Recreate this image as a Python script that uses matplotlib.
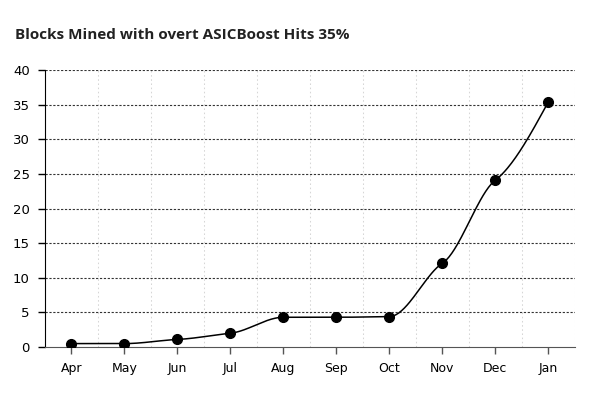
import numpy as np
import matplotlib.pyplot as plt

months = ['Apr', 'May', 'Jun', 'Jul', 'Aug', 'Sep', 'Oct', 'Nov', 'Dec', 'Jan']
share = [0.5, 0.5, 1.1, 2.0, 4.3, 4.3, 4.4, 12.1, 24.1, 35.4]
yticks = [0, 5, 10, 15, 20, 25, 30, 35, 40]


def smooth_curve(x, y, n=40):
    # monotone-style cubic hermite, tangents kept soft so the curve
    # bends between points like the original
    x = np.asarray(x, float)
    y = np.asarray(y, float)
    h = np.diff(x)
    s = np.diff(y) / h
    t = np.zeros(len(x))
    for i in range(1, len(x) - 1):
        if np.sign(s[i - 1]) == np.sign(s[i]) and s[i] != 0:
            p = (s[i - 1] * h[i] + s[i] * h[i - 1]) / (h[i - 1] + h[i])
            t[i] = np.sign(s[i]) * min(abs(s[i - 1]), abs(s[i]), 0.5 * abs(p))
    t[0] = (3 * s[0] - t[1]) / 2
    t[-1] = (3 * s[-1] - t[-2]) / 2
    xs, ys = [], []
    for i in range(len(x) - 1):
        u = np.linspace(0, 1, n)
        h00 = 2 * u**3 - 3 * u**2 + 1
        h10 = u**3 - 2 * u**2 + u
        h01 = -2 * u**3 + 3 * u**2
        h11 = u**3 - u**2
        xs.append(x[i] + u * h[i])
        ys.append(h00 * y[i] + h10 * h[i] * t[i] + h01 * y[i + 1] + h11 * h[i] * t[i + 1])
    return np.concatenate(xs), np.concatenate(ys)


fig = plt.figure(figsize=(6, 3.98), dpi=100)
ax = fig.add_axes([0.075, 0.128, 0.883, 0.696])

pos = np.arange(len(months))
cx, cy = smooth_curve(pos, share)
ax.plot(cx, cy, color='black', lw=1.1, zorder=3)
ax.plot(pos, share, 'o', color='black', ms=7, zorder=4)

ax.set_xlim(-0.5, len(months) - 0.5)
ax.set_ylim(0, 40)
ax.set_xticks(pos)
ax.set_xticklabels(months, fontsize=9, family='DejaVu Sans')
ax.set_yticks(yticks)
ax.set_yticklabels([str(v) for v in yticks], fontsize=9.5, family='DejaVu Sans')

for v in yticks[1:]:
    ax.axhline(v, color='#333333', lw=0.8, ls=(0, (2, 1.5)), zorder=1)
for b in np.arange(0.5, len(months), 1.0):
    ax.axvline(b, color='#d6d6d6', lw=0.75, ls=(0, (1.5, 2.5)), zorder=0)

ax.spines['top'].set_visible(False)
ax.spines['right'].set_visible(False)
ax.spines['left'].set_color('black')
ax.spines['bottom'].set_color('#555555')
ax.tick_params(axis='both', length=5, width=1, pad=6, colors='black')
ax.tick_params(axis='x', color='#555555')

fig.text(0.025, 0.901, 'Blocks Mined with overt ASICBoost Hits 35%',
         fontsize=11, fontweight='bold', fontstretch='normal',
         family='Open Sans', color='#222222')

fig.savefig('out.png', dpi=100)
